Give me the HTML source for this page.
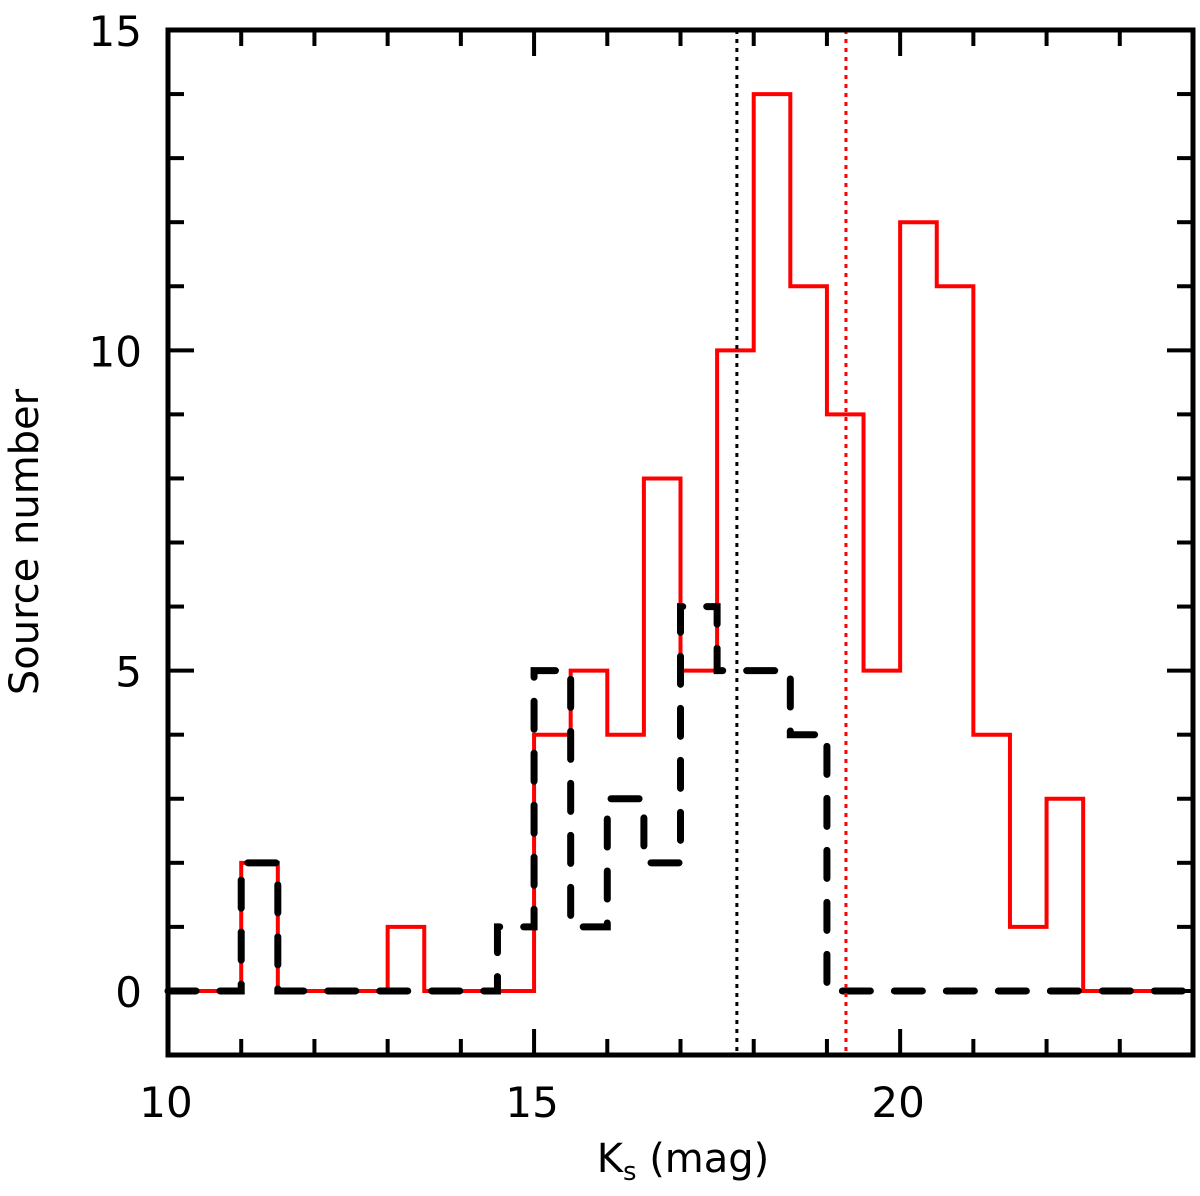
<!DOCTYPE html>
<html><head><meta charset="utf-8"><style>
html,body{margin:0;padding:0;background:#fff;}
svg text{font-family:"DejaVu Sans","Liberation Sans",sans-serif;fill:#000;}
</style></head><body>
<svg id="chart" width="1200" height="1191" viewBox="0 0 1200 1191" xmlns="http://www.w3.org/2000/svg">
<g id="plot"></g>
</svg>
<script>
const binEdges = [10,10.5,11,11.5,12,12.5,13,13.5,14,14.5,15,15.5,16,16.5,17,17.5,18,18.5,19,19.5,20,20.5,21,21.5,22,22.5,23,23.5,24];
const redCounts = [0,0,2,0,0,0,1,0,0,0,4,5,4,8,5,10,14,11,9,5,12,11,4,1,3,0,0,0];
const blackCounts = [0,0,2,0,0,0,0,0,0,1,5,1,3,2,6,5,5,4,0,0,0,0,0,0,0,0,0,0];
const vlines = [17.77, 19.26];
const xTickLabels = [10,15,20];
const yTickLabels = [0,5,10,15];

const L=168,R=1193,T=30,B=1055;
const xMin=10,xMax=24,yMin=-1,yMax=15;
const sx=v=>L+(v-xMin)/(xMax-xMin)*(R-L);
const sy=v=>B-(v-yMin)/(yMax-yMin)*(B-T);
const NS="http://www.w3.org/2000/svg";
const g=document.getElementById('plot');
function mk(tag,attrs){const e=document.createElementNS(NS,tag);for(const k in attrs)e.setAttribute(k,attrs[k]);g.appendChild(e);return e;}

function stepPath(counts){
  let d='M'+sx(binEdges[0])+','+sy(counts[0]);
  for(let i=0;i<counts.length;i++){
    d+=' L'+sx(binEdges[i])+','+sy(counts[i])+' L'+sx(binEdges[i+1])+','+sy(counts[i]);
  }
  return d;
}
const red=mk('path',{d:stepPath(redCounts),fill:'none',stroke:'#f00','stroke-width':4});


const blk=mk('path',{d:stepPath(blackCounts),fill:'none',stroke:'#000','stroke-width':7,'stroke-dasharray':'28 24','stroke-linecap':'round'});


const vcol=['#000','#f00'];
vlines.forEach((v,i)=>{
  const l=mk('line',{x1:sx(v),x2:sx(v),y1:T,y2:B,stroke:vcol[i],'stroke-width':3,'stroke-dasharray':'4 5'});
  
  
});
for(let v=xMin+1;v<xMax;v++){
  const len=v%5===0?26:16;
  const t1=mk('line',{x1:sx(v),x2:sx(v),y1:B,y2:B-len,stroke:'#000','stroke-width':4});
  
  
  const t2=mk('line',{x1:sx(v),x2:sx(v),y1:T,y2:T+len,stroke:'#000','stroke-width':4});
  
  
}
for(let v=yMin+1;v<yMax;v++){
  const len=v%5===0?26:16;
  const t1=mk('line',{x1:L,x2:L+len,y1:sy(v),y2:sy(v),stroke:'#000','stroke-width':4});
  
  
  const t2=mk('line',{x1:R,x2:R-len,y1:sy(v),y2:sy(v),stroke:'#000','stroke-width':4});
  
  
}
const fr=mk('rect',{x:L,y:T,width:R-L,height:B-T,fill:'none',stroke:'#000','stroke-width':5});


xTickLabels.forEach(v=>{
  const t=mk('text',{x:sx(v)-2,y:1117,'font-size':42,'text-anchor':'middle'});t.textContent=v;
  
  
});
yTickLabels.forEach(v=>{
  const t=mk('text',{x:142,y:sy(v)+16,'font-size':42,'text-anchor':'end'});t.textContent=v;
  
  
});
const xt=mk('text',{x:683,y:1172,'font-size':40,'text-anchor':'middle'});
xt.innerHTML='K<tspan font-size="26" dy="8">s</tspan><tspan dy="-8"> (mag)</tspan>';


const yt=mk('text',{x:0,y:0,'font-size':40,'text-anchor':'middle',transform:'translate(38,542) rotate(-90)'});
yt.textContent='Source number';


</script>
</body></html>
